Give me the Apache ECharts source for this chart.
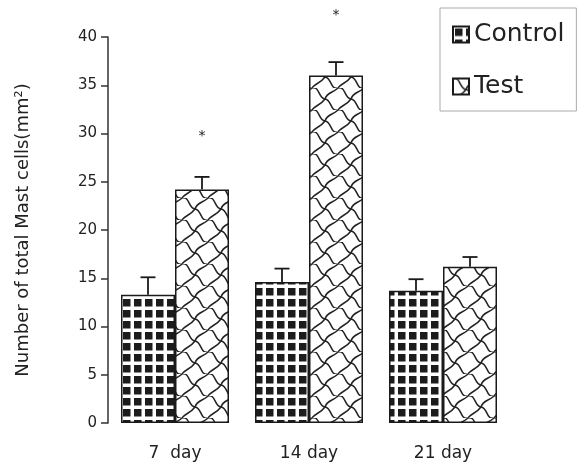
<!DOCTYPE html>
<html><head><meta charset="utf-8">
<script src="https://cdn.jsdelivr.net/npm/echarts@6/dist/echarts.min.js"></script>
<style>html,body{margin:0;padding:0;background:#fff}#c{width:585px;height:469px}</style>
</head><body><div id="c"></div>
<script>
const categories = ['7  day', '14 day', '21 day'];
const controlValues = [13.3, 14.6, 13.7];
const controlErrTop = [15.1, 16.0, 14.9];
const testValues = [24.2, 36.0, 16.2];
const testErrTop = [25.5, 37.4, 17.2];
const starCategories = [0, 1];
const starValues = [30.0, 42.6];
const yTicks = [0, 5, 10, 15, 20, 25, 30, 35, 40];

function controlPattern() {
  const c = document.createElement('canvas');
  c.width = 11; c.height = 11;
  const g = c.getContext('2d');
  g.fillStyle = '#fff'; g.fillRect(0, 0, 11, 11);
  g.fillStyle = '#1c1c1c'; g.fillRect(2, 2, 7.5, 7.5);
  return c;
}
function testPattern() {
  const W = 26, H = 22;
  const c = document.createElement('canvas');
  c.width = W; c.height = H;
  const g = c.getContext('2d');
  g.fillStyle = '#fff'; g.fillRect(0, 0, W, H);
  g.strokeStyle = '#222'; g.lineWidth = 1.5;
  g.beginPath();
  g.moveTo(0, 0);
  g.bezierCurveTo(8, -2, 6, 10, 13, 11);
  g.bezierCurveTo(20, 12, 18, 24, 26, 22);
  g.stroke();
  g.beginPath();
  g.moveTo(13, 11);
  g.bezierCurveTo(15, 4, 21, 5, 26, 0);
  g.stroke();
  g.beginPath();
  g.moveTo(0, 22);
  g.bezierCurveTo(3, 17, 8, 18, 13, 11);
  g.stroke();
  return c;
}

const chart = echarts.init(document.getElementById('c'), null, {renderer: 'canvas'});
const font = 'DejaVu Sans';
const errData = [];
categories.forEach((_, i) => {
  errData.push([i, -1, controlValues[i], controlErrTop[i]]);
  errData.push([i, 1, testValues[i], testErrTop[i]]);
});
const starData = starCategories.map((c, i) => [c, starValues[i]]);

chart.setOption({
  animation: false,
  backgroundColor: '#fff',
  grid: {left: 108, right: 75, top: 37, bottom: 46},
  legend: {
    orient: 'vertical', left: 440, top: 8,
    padding: [14, 12, 12, 12], itemGap: 27,
    itemWidth: 16, itemHeight: 16,
    borderColor: '#aaa', borderWidth: 1,
    textStyle: {fontFamily: font, fontSize: 25, color: '#222'},
    data: [{name: 'Control', icon: 'rect'}, {name: 'Test', icon: 'rect'}]
  },
  xAxis: {
    type: 'category', data: categories,
    axisLine: {show: false}, axisTick: {show: false},
    axisLabel: {fontFamily: font, fontSize: 17, color: '#222', margin: 22}
  },
  yAxis: {
    type: 'value', min: 0, max: 40, interval: 5,
    name: 'Number of total Mast cells(mm²)',
    nameLocation: 'middle', nameGap: 76, nameRotate: 90,
    nameTextStyle: {fontFamily: font, fontSize: 18, color: '#222'},
    splitLine: {show: false},
    axisLine: {show: true, lineStyle: {color: '#333', width: 1.5}},
    axisTick: {show: true, length: 7, lineStyle: {color: '#333', width: 1.5}},
    axisLabel: {fontFamily: font, fontSize: 15, color: '#222', margin: 11,
      formatter: v => yTicks.includes(v) ? String(v) : ''}
  },
  series: [
    {name: 'Control', type: 'bar', data: controlValues, barWidth: 54, barGap: '0%',
      itemStyle: {color: {image: controlPattern(), repeat: 'repeat'}, borderColor: '#1a1a1a', borderWidth: 1.5}},
    {name: 'Test', type: 'bar', data: testValues, barWidth: 54, barGap: '0%',
      itemStyle: {color: {image: testPattern(), repeat: 'repeat'}, borderColor: '#1a1a1a', borderWidth: 1.5}},
    {type: 'custom', name: 'err', data: errData, z: 5, silent: true,
      renderItem: (params, api) => {
        const p = api.coord([api.value(0), api.value(2)]);
        const q = api.coord([api.value(0), api.value(3)]);
        const x = p[0] + api.value(1) * 27;
        const st = {stroke: '#1a1a1a', lineWidth: 1.8};
        return {type: 'group', children: [
          {type: 'line', shape: {x1: x, y1: p[1], x2: x, y2: q[1]}, style: st},
          {type: 'line', shape: {x1: x - 7.5, y1: q[1], x2: x + 7.5, y2: q[1]}, style: st}
        ]};
      }},
    {type: 'custom', name: 'star', data: starData, z: 5, silent: true, clip: false,
      renderItem: (params, api) => {
        const p = api.coord([api.value(0), api.value(1)]);
        return {type: 'text', x: p[0] + 27, y: p[1] + 3,
          style: {text: '*', fontFamily: font, fontSize: 14, fill: '#222', align: 'center', verticalAlign: 'middle'}};
      }}
  ]
});
</script></body></html>
